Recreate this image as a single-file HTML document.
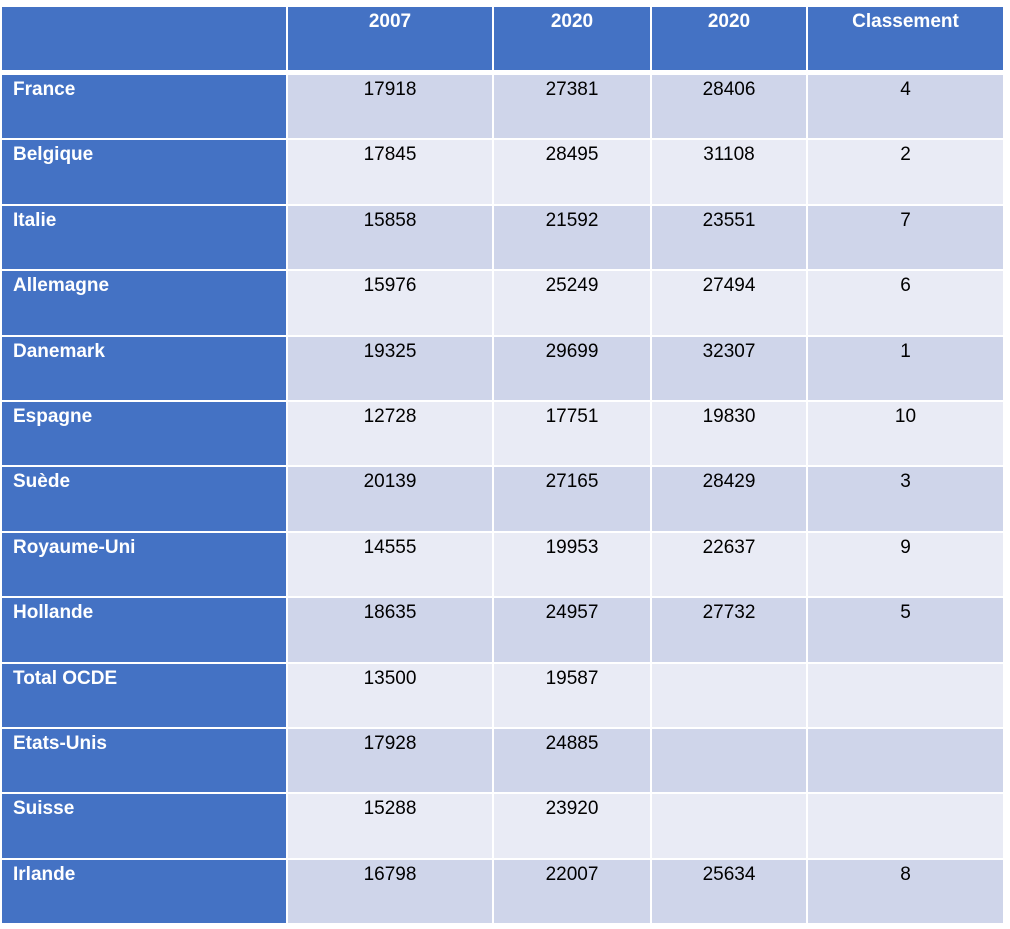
<!DOCTYPE html>
<html><head><meta charset="utf-8"><style>
body{margin:0;width:1010px;height:929px;background:#fff;position:relative;overflow:hidden;font-family:"Liberation Sans",sans-serif;}
.c{position:absolute;box-sizing:border-box;font-size:19px;padding-top:4px;}
.h{background:#4472C4;color:#fff;font-weight:bold;text-align:center;}
.l{background:#4472C4;color:#fff;font-weight:bold;padding-left:11px;}
.d{color:#000;text-align:center;}
</style></head><body>
<div id="t"></div>
<script>
const headers=["","2007","2020","2020","Classement"];
const countries=["France","Belgique","Italie","Allemagne","Danemark","Espagne","Suède","Royaume-Uni","Hollande","Total OCDE","Etats-Unis","Suisse","Irlande"];
const v2007=["17918","17845","15858","15976","19325","12728","20139","14555","18635","13500","17928","15288","16798"];
const v2020a=["27381","28495","21592","25249","29699","17751","27165","19953","24957","19587","24885","23920","22007"];
const v2020b=["28406","31108","23551","27494","32307","19830","28429","22637","27732","","","","25634"];
const rank=["4","2","7","6","1","10","3","9","5","","","","8"];
const xs=[2,288,494,652,808,1005];
const t=document.getElementById('t');
function cell(x0,x1,y0,y1,cls,txt,name){const d=document.createElement('div');d.className='c '+cls;
d.style.left=x0+'px';d.style.width=(x1-x0)+'px';d.style.top=y0+'px';d.style.height=(y1-y0)+'px';d.textContent=txt;


t.appendChild(d);}
for(let c=0;c<5;c++)cell(xs[c],xs[c+1]-2,7,70,'h',headers[c],'header-cell');
const rh=65.4;
for(let r=0;r<countries.length;r++){
 const y0=Math.round(75+r*rh),y1=Math.round(75+(r+1)*rh)-2;
 const bg=r%2==0?'#CFD5EA':'#E9EBF5';
 cell(xs[0],xs[1]-2,y0,y1,'l',countries[r],'country-label');
 const vals=[v2007[r],v2020a[r],v2020b[r],rank[r]];
 for(let c=0;c<4;c++){cell(xs[c+1],xs[c+2]-2,y0,y1,'d',vals[c],'value-cell');t.lastChild.style.background=bg;}
}
</script>
</body></html>
